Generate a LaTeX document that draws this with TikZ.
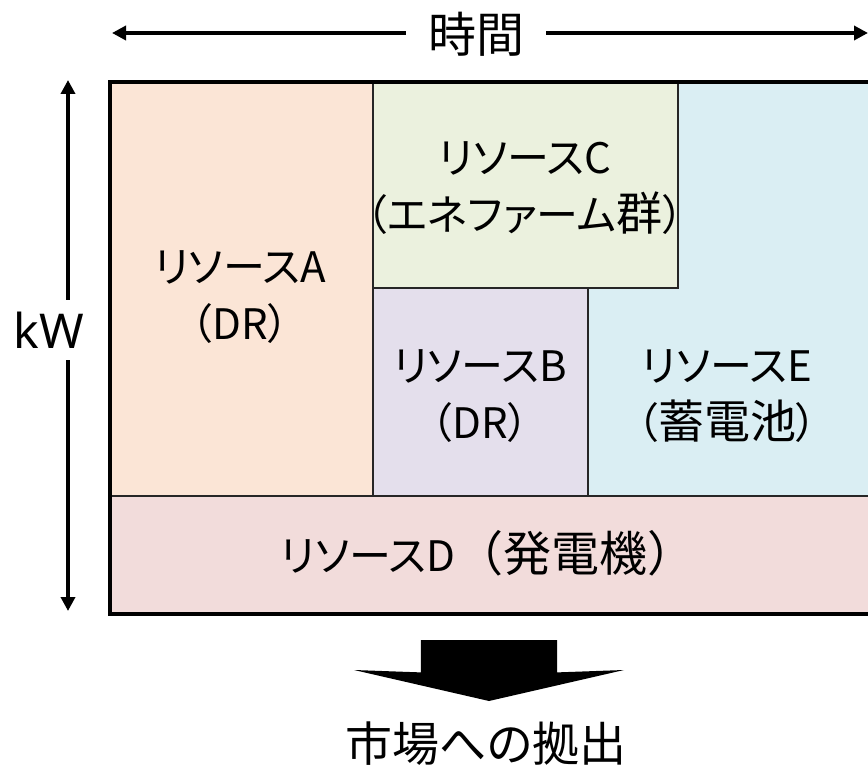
\documentclass[tikz,border=0pt]{standalone}
\usepackage{fontspec}
\setmainfont{Noto Sans CJK JP}[RawFeature=+palt]
\newfontfamily\cjkfull{Noto Sans CJK JP}
\newfontfamily\latinfont{Noto Sans}
\newcommand\kj[1]{{\fontsize{46}{57}\selectfont #1}}
\usetikzlibrary{arrows.meta}
\definecolor{cA}{HTML}{FBE5D6}
\definecolor{cB}{HTML}{E4DFEC}
\definecolor{cC}{HTML}{EBF1DE}
\definecolor{cD}{HTML}{F2DCDB}
\definecolor{cE}{HTML}{DAEEF3}
\tikzset{
  res/.style={draw=black!85, line width=2pt, inner sep=0pt, anchor=north west},
  txt/.style={align=center, inner sep=0pt, font=\fontsize{42}{57}\selectfont},
  lbl/.style={inner sep=0pt},
  axis/.style={line width=3.5pt, -{Triangle[length=14pt,width=14pt]}},
}
\begin{document}
\begin{tikzpicture}[x=1pt,y=-1pt]
\useasboundingbox (0,0) rectangle (868,767);
\clip (0,0) rectangle (868,767);
% resource boxes
\node[res, fill=cE, minimum width=285pt, minimum height=415pt] (E) at (587,80) {};
\node[res, fill=cC, minimum width=305pt, minimum height=207pt] (C) at (372,80) {};
\node[res, fill=cB, minimum width=215pt, minimum height=208pt] (B) at (372,287) {};
\node[res, fill=cA, minimum width=264pt, minimum height=415pt] (A) at (108,80) {};
\node[res, fill=cD, minimum width=764pt, minimum height=117pt] (D) at (108,495) {};
% outer frame
\node[draw=black, line width=4pt, minimum width=764pt, minimum height=532pt, anchor=north west, inner sep=0pt] (frame) at (108,80) {};
% texts
\node[txt] (At) at (240,297) {リソースA\\（DR）};
\node[txt] (Ct) at (525,188) {リソースC\\（エネファーム\kj{群}）};
\node[txt] (Bt) at (480,396) {リソースB\\（DR）};
\node[txt] (Et) at (727,396) {リソースE\\（\kj{蓄電池}）};
\node[txt] (Dt) at (488,553) {リソースD{\fontsize{48}{57}\selectfont\cjkfull （発電機）}};
% time axis
\node[lbl, inner xsep=22pt, font=\fontsize{48}{52}\selectfont] (time) at (476,34) {時間};
\coordinate (tl) at (112,33);
\coordinate (tr) at (868,33);
\draw[axis] (time.west |- tl) -- (tl);
\draw[axis] (time.east |- tr) -- (tr);
% kW axis
\node[lbl, inner ysep=12pt, font=\latinfont\fontsize{48}{52}\selectfont] (kw) at (49,330) {kW};
\coordinate (kt) at (68,80);
\coordinate (kb) at (68,611);
\draw[axis] (kw.north -| kt) -- (kt);
\draw[axis] (kw.south -| kb) -- (kb);
% block arrow
\node[minimum width=136pt, minimum height=32pt, inner sep=0pt, anchor=north] (shaft) at (489,640) {};
\coordinate (hl) at (354,670);
\coordinate (hr) at (624,670);
\coordinate (tip) at (489,701);
\fill[black] (shaft.north west) -- (shaft.north east) -- (shaft.south east) -- (hr) -- (tip) -- (hl) -- (shaft.south west) -- cycle;
\node[lbl, font=\fontsize{47}{52}\selectfont] (market) at (486,744) {市場への拠出};
\end{tikzpicture}
\end{document}
